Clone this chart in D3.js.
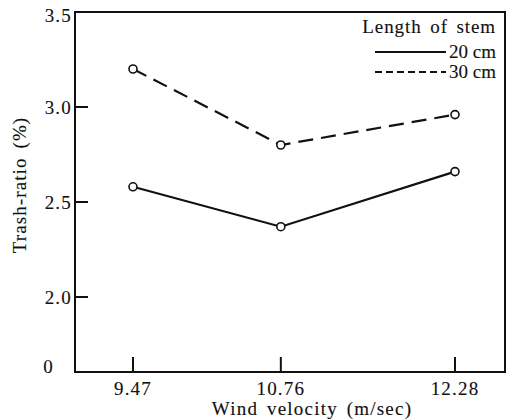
<!DOCTYPE html>
<html>
<head>
<meta charset="utf-8">
<script src="https://cdn.jsdelivr.net/npm/d3@7"></script>
<style>
  body { margin: 0; background: #fff; }
  svg text { stroke: #111; stroke-width: 0.12px; }
</style>
</head>
<body>
<div id="chart"></div>
<script>
// Chart data
const velocities = [9.47, 10.76, 12.28];
const stem20 = [2.58, 2.37, 2.66];
const stem30 = [3.20, 2.80, 2.96];
const yTicks = [0, 2.0, 2.5, 3.0, 3.5];
const yTickLabels = ['0', '2.0', '2.5', '3.0', '3.5'];
const seriesNames = ['20 cm', '30 cm'];

const width = 509, height = 420;
const frameL = 75, frameR = 505, frameT = 12, frameB = 372;

const svg = d3.select('#chart')
  .append('svg')
  .attr('width', width)
  .attr('height', height)
  .attr('font-family', "'Liberation Serif', 'Times New Roman', Times, 'DejaVu Serif', serif")
  .attr('fill', '#111');

const x = d3.scaleLinear().domain([9.47, 12.28]).range([133, 455]);
// broken axis: 0 .. 2.0 squeezed into the lower strip
const y = d3.scaleLinear().domain([0, 2.0, 3.5]).range([frameB, 297, frameT]);

// Frame
svg.append('rect')
  .attr('x', frameL).attr('y', frameT)
  .attr('width', frameR - frameL).attr('height', frameB - frameT)
  .attr('fill', 'none')
  .attr('stroke', '#111')
  .attr('stroke-width', 2);

// Y ticks (inward)
svg.selectAll('.ytick')
  .data(yTicks.filter(v => v > 0 && v < 3.5))
  .enter().append('line')
  .attr('x1', frameL).attr('x2', frameL + 13)
  .attr('y1', d => y(d)).attr('y2', d => y(d))
  .attr('stroke', '#111').attr('stroke-width', 2);

svg.selectAll('.ylab')
  .data(yTicks)
  .enter().append('text')
  .attr('x', d => d === 0 ? 54 : 72)
  .attr('y', d => y(d) + (d === 0 ? 1 : d === 3.5 ? 10 : 7))
  .attr('text-anchor', 'end')
  .attr('font-size', 19)
  .attr('letter-spacing', 1.2)
  .text((d, i) => yTickLabels[i]);

// X ticks (inward)
svg.selectAll('.xtick')
  .data(velocities)
  .enter().append('line')
  .attr('x1', d => x(d)).attr('x2', d => x(d))
  .attr('y1', frameB).attr('y2', frameB - 15)
  .attr('stroke', '#111').attr('stroke-width', 2);

svg.selectAll('.xlab')
  .data(velocities)
  .enter().append('text')
  .attr('x', d => x(d))
  .attr('y', 395)
  .attr('text-anchor', 'middle')
  .attr('font-size', 19)
  .attr('letter-spacing', 1.2)
  .text(d => d.toFixed(2));

// Axis titles
svg.append('text')
  .attr('x', 312).attr('y', 415)
  .attr('text-anchor', 'middle')
  .attr('font-size', 19)
  .attr('letter-spacing', 1.2)
  .attr('word-spacing', 3)
  .text('Wind velocity (m/sec)');

svg.append('text')
  .attr('transform', 'translate(26,185) rotate(-90)')
  .attr('text-anchor', 'middle')
  .attr('font-size', 19)
  .attr('letter-spacing', 1.1)
  .attr('word-spacing', 3)
  .text('Trash-ratio (%)');

// Series
const series = [
  { name: seriesNames[0], values: stem20, dash: null, legendDash: null },
  { name: seriesNames[1], values: stem30, dash: '15,8', legendDash: '7,4' }
];

const line = d3.line()
  .x((d, i) => x(velocities[i]))
  .y(d => y(d));

series.forEach(s => {
  svg.append('path')
    .datum(s.values)
    .attr('d', line)
    .attr('fill', 'none')
    .attr('stroke', '#111')
    .attr('stroke-width', 2.2)
    .attr('stroke-dasharray', s.dash);

  svg.selectAll(null)
    .data(s.values)
    .enter().append('circle')
    .attr('cx', (d, i) => x(velocities[i]))
    .attr('cy', d => y(d))
    .attr('r', 4)
    .attr('fill', '#fff')
    .attr('stroke', '#111')
    .attr('stroke-width', 1.6);
});

// Legend
svg.append('text')
  .attr('x', 496).attr('y', 33)
  .attr('text-anchor', 'end')
  .attr('font-size', 19)
  .attr('letter-spacing', 0.9)
  .attr('word-spacing', 3)
  .text('Length of stem');

series.forEach((s, i) => {
  const ly = 52 + i * 20;
  svg.append('line')
    .attr('x1', 375).attr('x2', 446)
    .attr('y1', ly).attr('y2', ly)
    .attr('stroke', '#111')
    .attr('stroke-width', 2)
    .attr('stroke-dasharray', s.legendDash);
  svg.append('text')
    .attr('x', 449).attr('y', ly + 6)
    .attr('font-size', 19)
    .text(s.name);
});
</script>
</body>
</html>
